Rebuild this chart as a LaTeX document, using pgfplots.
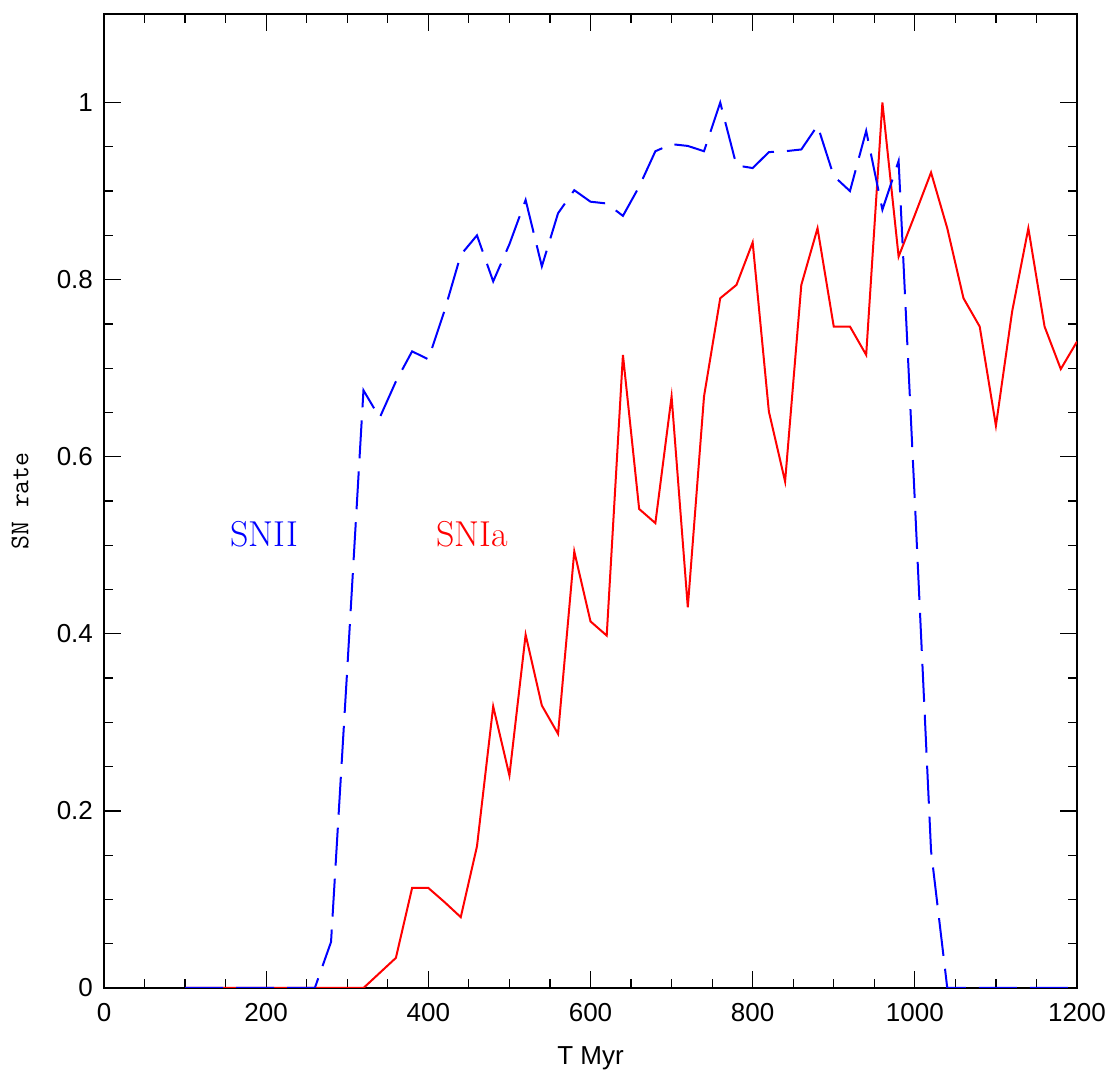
\documentclass[border=0pt]{standalone}
\usepackage{fontspec}
\usepackage{pgfplots}
\pgfplotsset{compat=1.18}
\newfontfamily\hv{Liberation Sans}
\begin{document}
\begin{tikzpicture}
\path[use as bounding box] (-52pt,-44pt) rectangle (503pt,494pt);
\begin{axis}[
  at={(0,0)}, anchor=south west,
  scale only axis, width=486.5pt, height=487pt,
  xmin=0, xmax=1200, ymin=0, ymax=1.1,
  xtick={0,200,...,1200}, ytick={0,0.2,0.4,0.6,0.8,1},
  yticklabels={0,0.2,0.4,0.6,0.8,1},
  minor x tick num=3, minor y tick num=3,
  tick align=inside, xtick pos=both, ytick pos=both,
  major tick length=8.5pt, minor tick length=4.3pt,
  every tick/.style={black, line width=0.6pt},
  axis line style={line width=0.9pt},
  /pgf/number format/assume math mode=true,
  /pgf/number format/1000 sep={},
  ticklabel style={font=\hv\fontsize{13}{13}\selectfont},
  xticklabel style={yshift=-4pt},
  yticklabel style={xshift=-2pt},
  xlabel={T Myr},
  xlabel style={font=\hv\fontsize{13}{13}\selectfont, at={(axis description cs:0.5,0)}, anchor=center, yshift=-35pt},
  ylabel={SN rate},
  ylabel style={font=\ttfamily\fontsize{13.5}{13.5}\selectfont, at={(axis description cs:-0.0863,0.5)}, anchor=center},
  clip=true,
]
\addplot[red, line width=1pt] coordinates {
(100,0) (120,0) (140,0) (160,0) (180,0) (200,0) (220,0) (240,0) (260,0) (280,0) (300,0) (320,0)
(340,0.017) (360,0.034) (380,0.113) (400,0.113) (420,0.097) (440,0.080) (460,0.160) (480,0.318)
(500,0.240) (520,0.399) (540,0.319) (560,0.287) (580,0.493) (600,0.414) (620,0.398) (640,0.715)
(660,0.541) (680,0.525) (700,0.668) (720,0.430) (740,0.668) (760,0.779) (780,0.794) (800,0.842)
(820,0.651) (840,0.572) (860,0.794) (880,0.858) (900,0.747) (920,0.747) (940,0.715) (960,1.0)
(980,0.826) (1000,0.873) (1020,0.921) (1040,0.858) (1060,0.779) (1080,0.747) (1100,0.635)
(1120,0.764) (1140,0.858) (1160,0.747) (1180,0.699) (1200,0.730)
};
\addplot[blue, line width=1pt, dash pattern=on 19pt off 6.5pt] coordinates {
(100,0) (120,0) (140,0) (160,0) (180,0) (200,0) (220,0) (240,0) (260,0)
(280,0.052) (300,0.36) (320,0.675) (340,0.644) (360,0.685) (380,0.719) (400,0.710) (420,0.765)
(440,0.828) (460,0.850) (480,0.798) (500,0.840) (520,0.890) (540,0.815) (560,0.875) (580,0.901)
(600,0.888) (620,0.886) (640,0.872) (660,0.905) (680,0.945) (700,0.953) (720,0.951) (740,0.945)
(760,1.0) (780,0.929) (800,0.926) (820,0.944) (840,0.945) (860,0.947) (880,0.974) (900,0.917)
(920,0.900) (940,0.968) (960,0.879) (980,0.934) (1000,0.55) (1020,0.155) (1040,0)
(1060,0) (1080,0) (1100,0) (1120,0) (1140,0) (1160,0) (1180,0) (1200,0)
};
\node[blue, font=\fontsize{18}{18}\selectfont] at (axis cs:198,0.512) {SNII};
\node[red, font=\fontsize{18}{18}\selectfont] at (axis cs:454,0.512) {SNIa};
\end{axis}
\end{tikzpicture}
\end{document}
